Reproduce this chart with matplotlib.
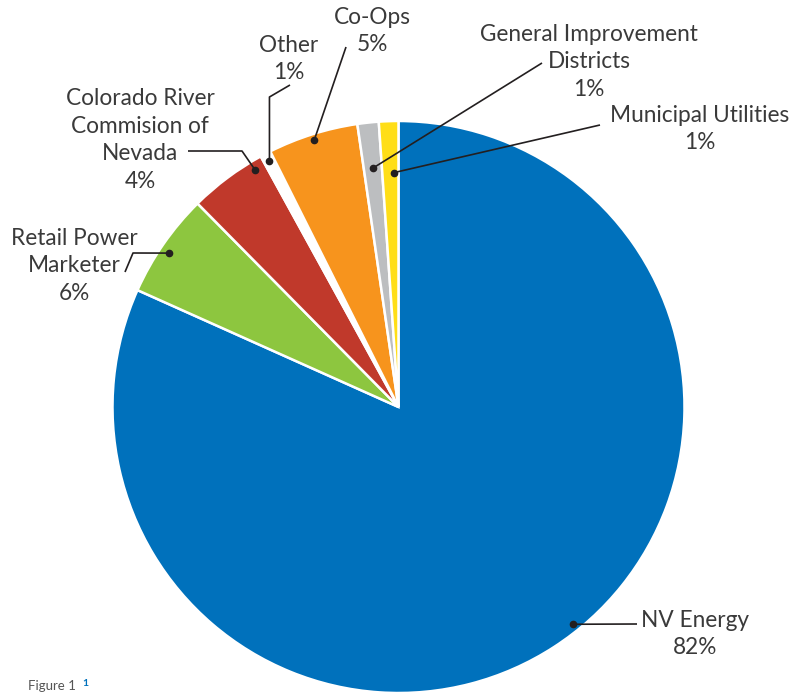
import numpy as np
import matplotlib.pyplot as plt

plt.rcParams['font.family'] = ['Lato', 'DejaVu Sans']

labels = ['NV Energy', 'Retail Power\nMarketer', 'Colorado River\nCommision of\nNevada', 'Other',
          'Co-Ops', 'General Improvement\nDistricts', 'Municipal Utilities']
pct_text = ['82%', '6%', '4%', '1%', '5%', '1%', '1%']
shares = [81.7, 5.9, 4.4, 0.6, 5.1, 1.2, 1.1]
colors = ['#0071BC', '#8DC63F', '#C0392B', '#FFFFFF', '#F7941D', '#BCBEC0', '#FFDE17']

H = 692
cx, cy, R = 398.5, H - 407, 286

fig = plt.figure(figsize=(8, 6.92), dpi=100)
ax = fig.add_axes([0, 0, 1, 1])

wedges, _ = ax.pie(shares, colors=colors, startangle=90, counterclock=False,
                   center=(cx, cy), radius=R, frame=True,
                   wedgeprops=dict(edgecolor='white', linewidth=1.8))
ax.set_xlim(0, 800)
ax.set_ylim(0, H)
ax.set_aspect('equal')
ax.axis('off')

# anchor: (fraction along wedge, fraction of radius); text centre in pixels from top; leader bends
anchors = [(0.52, 0.975), (0.54, 0.965), (0.15, 0.97), (0.5, 0.97), (0.5, 0.98), (0.5, 0.84), (0.25, 0.82)]
text_pos = [(695, 634), (74, 266), (140, 140), (289, 59), (372, 31), (589, 62), (700, 129)]
bends = [[(637, 624)],
         [(133, 253), (125, 272)],
         [(242, 151), (188, 151)],
         [None, (290, 85)],
         [(346, 47)],
         [(542, 63)],
         [(600, 125)]]

for w, (f, rf), path in zip(wedges, anchors, bends):
    ang = np.deg2rad(w.theta1 + f * (w.theta2 - w.theta1))
    ax0 = cx + rf * R * np.cos(ang)
    ay0 = cy + rf * R * np.sin(ang)
    xs, ys = [ax0], [ay0]
    for p in path:
        if p is None:
            xs.append(ax0)
            ys.append(H - 97)
        else:
            xs.append(p[0])
            ys.append(H - p[1])
    ax.plot(xs, ys, color='#231F20', lw=1.2, solid_capstyle='butt')
    ax.plot(ax0, ay0, 'o', color='#231F20', ms=4.5)

for lab, pt, (tx, ty) in zip(labels, pct_text, text_pos):
    ax.text(tx, H - ty, lab + '\n' + pt, ha='center', va='center', fontsize=16.3,
            color='#3a3a3a', linespacing=1.38)

ax.text(28, H - 686, 'Figure 1', fontsize=9.5, color='#555555', ha='left', va='center')
ax.text(82, H - 683, '1', fontsize=7.5, color='#0071BC', fontweight='bold', ha='left', va='center')

fig.savefig('out.png', dpi=100)
